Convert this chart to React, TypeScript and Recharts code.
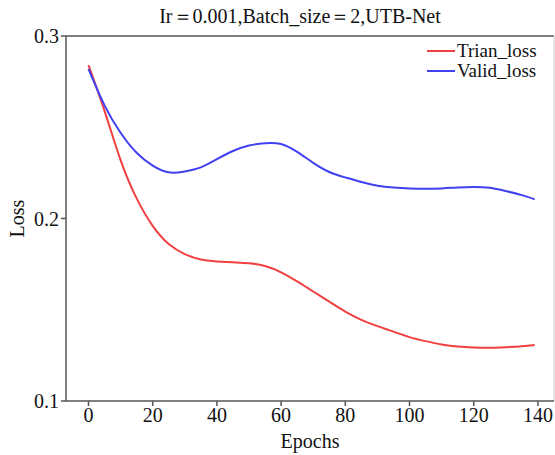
import React from 'react';
import {
  LineChart,
  Line,
  XAxis,
  YAxis,
  ReferenceLine
} from 'recharts';

// values
const epochs = [0, 5, 10, 15, 20, 25, 30, 35, 40, 45, 50, 55, 60, 65, 70, 75, 80, 85, 90, 95, 100, 105, 110, 115, 120, 125, 130, 135, 139];
const trainLoss = [0.284, 0.259, 0.232, 0.211, 0.196, 0.186, 0.1805, 0.1775, 0.1765, 0.176, 0.1755, 0.174, 0.1705, 0.1655, 0.16, 0.1545, 0.149, 0.1445, 0.141, 0.138, 0.135, 0.1328, 0.131, 0.1298, 0.1293, 0.1292, 0.1295, 0.13, 0.1307];
const validLoss = [0.282, 0.262, 0.247, 0.236, 0.229, 0.2253, 0.2258, 0.228, 0.2325, 0.237, 0.24, 0.2413, 0.2408, 0.2365, 0.2305, 0.2255, 0.2225, 0.22, 0.218, 0.217, 0.2165, 0.2163, 0.2165, 0.217, 0.2173, 0.2168, 0.215, 0.2128, 0.2105];
const xTicks = [0, 20, 40, 60, 80, 100, 120, 140];
const yTicks = [0.1, 0.2, 0.3];

const chartData = epochs.map((epoch, i) => ({
  epoch,
  train: trainLoss[i],
  valid: validLoss[i]
}));

const FONT = '"Liberation Serif", "Times New Roman", serif';
const AXIS = '#555';

const legendItems = [
  { name: 'Trian_loss', color: '#f04040' },
  { name: 'Valid_loss', color: '#4040f0' }
];

export default function App() {
  return (
    <div style={{ position: 'absolute', left: 0, top: 0, width: 555, height: 455, background: '#fff' }}>
      <div
        style={{
          position: 'absolute',
          left: 50,
          width: 500,
          top: 3,
          textAlign: 'center',
          fontFamily: FONT,
          fontSize: 20,
          color: '#111'
        }}
      >
        Ir＝0.001,Batch_size＝2,UTB-Net
      </div>
      <LineChart
        width={555}
        height={455}
        data={chartData}
        margin={{ top: 36, right: 1, bottom: 0, left: 0 }}
      >
        <XAxis
          dataKey="epoch"
          type="number"
          domain={[-7, 145]}
          ticks={xTicks}
          allowDataOverflow
          height={54}
          stroke={AXIS}
          strokeWidth={1.5}
          tickSize={5}
          tick={{ fill: '#111', fontSize: 20, fontFamily: FONT }}
          label={{ value: 'Epochs', position: 'insideBottom', offset: 7, fill: '#111', fontSize: 20, fontFamily: FONT }}
        />
        <YAxis
          type="number"
          domain={[0.1, 0.3]}
          ticks={yTicks}
          allowDataOverflow
          width={66}
          stroke={AXIS}
          strokeWidth={1.5}
          tickSize={5}
          tickFormatter={(v: number) => v.toFixed(1)}
          tick={{ fill: '#111', fontSize: 20, fontFamily: FONT }}
          label={{ value: 'Loss', angle: -90, position: 'insideLeft', offset: 17, fill: '#111', fontSize: 20, fontFamily: FONT, style: { textAnchor: 'middle' } }}
        />
        <ReferenceLine y={0.3} stroke={AXIS} strokeWidth={1.5} />
        <ReferenceLine x={145} stroke="#ccc" strokeWidth={1} />
        <Line
          name="Trian_loss"
          type="natural"
          dataKey="train"
          stroke="#f04040"
          strokeWidth={2}
          dot={false}
          isAnimationActive={false}
        />
        <Line
          name="Valid_loss"
          type="natural"
          dataKey="valid"
          stroke="#4040f0"
          strokeWidth={2}
          dot={false}
          isAnimationActive={false}
        />
      </LineChart>
      <div
        style={{
          position: 'absolute',
          left: 427,
          top: 41,
          fontFamily: FONT,
          fontSize: 19,
          lineHeight: '20px',
          color: '#111'
        }}
      >
        {legendItems.map(item => (
          <div key={item.name} style={{ display: 'flex', alignItems: 'center' }}>
            <span style={{ display: 'inline-block', width: 28, height: 2, background: item.color, marginRight: 2 }} />
            <span>{item.name}</span>
          </div>
        ))}
      </div>
    </div>
  );
}
